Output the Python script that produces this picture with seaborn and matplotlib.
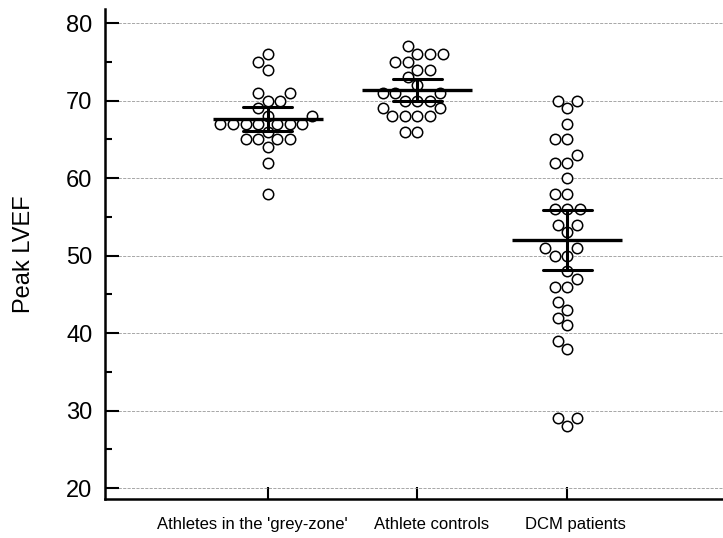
import numpy as np
import pandas as pd
import matplotlib
matplotlib.use("Agg")
import matplotlib.pyplot as plt
import matplotlib.transforms as mtransforms
import seaborn as sns
from matplotlib.ticker import MultipleLocator

groups = ["Athletes in the 'grey-zone'", "Athlete controls", "DCM patients"]

grey_zone = [76, 75, 74, 71, 71, 70, 70, 69, 68, 68, 67, 67, 67, 67, 67, 67, 67,
             66, 65, 65, 65, 65, 64, 62, 58]
controls = [77, 76, 76, 76, 75, 75, 74, 74, 73, 72, 71, 71, 71, 70, 70, 70,
            69, 69, 68, 68, 68, 68, 66, 66]
dcm = [70, 70, 69, 67, 65, 65, 63, 62, 62, 60, 58, 58, 56, 56, 56, 54, 54, 53,
       51, 51, 50, 50, 48, 47, 46, 46, 44, 43, 42, 41, 39, 38, 29, 29, 28]

df = pd.DataFrame({
    "group": [groups[0]] * len(grey_zone) + [groups[1]] * len(controls) + [groups[2]] * len(dcm),
    "lvef": grey_zone + controls + dcm,
})

sns.set_style("white")
plt.rcParams["font.family"] = ["Liberation Sans", "DejaVu Sans"]
plt.rcParams["text.color"] = "black"
plt.rcParams["xtick.color"] = "black"
plt.rcParams["ytick.color"] = "black"
plt.rcParams["axes.labelcolor"] = "black"

fig = plt.figure(figsize=(7.23, 5.38), dpi=100)
ax = fig.add_axes([0.145, 0.0725, 0.855, 0.9105])

sns.swarmplot(data=df, x="group", y="lvef", order=groups, color="white",
              edgecolor="black", linewidth=1.1, size=7.5, ax=ax, zorder=3)

# mean with ~95% CI (2 x SEM)
sns.pointplot(data=df, x="group", y="lvef", order=groups, errorbar=("se", 2),
              capsize=0.33, linestyle="none", marker="_", markersize=79,
              markeredgewidth=2.4, color="black", err_kws={"linewidth": 2.2},
              ax=ax, zorder=4)

ax.set_xlim(-1.087, 3.04)
ax.set_ylim(18.6, 81.8)
ax.yaxis.set_major_locator(MultipleLocator(10))
ax.yaxis.set_minor_locator(MultipleLocator(5))

ax.grid(axis="y", linestyle="--", color="#999999", linewidth=0.6)
ax.grid(axis="x", visible=False)
for s in ["top", "right"]:
    ax.spines[s].set_visible(False)
for s in ["left", "bottom"]:
    ax.spines[s].set_linewidth(1.8)
    ax.spines[s].set_color("black")

ax.tick_params(axis="y", which="major", direction="in", length=10, width=1.5,
               labelsize=17, pad=9, left=True)
ax.tick_params(axis="y", which="minor", direction="in", length=5, width=1.5, left=True)
ax.tick_params(axis="x", direction="in", length=9, width=1.5, labelsize=12,
               pad=13, bottom=True)

# labels in the original are nudged sideways so they don't crowd each other
shifts = [-15, 14, 8]
for lab, dx in zip(ax.get_xticklabels(), shifts):
    lab.set_transform(lab.get_transform() + mtransforms.ScaledTranslation(dx / 100, 0, fig.dpi_scale_trans))

ax.set_xlabel("")
ax.set_ylabel("Peak LVEF", fontsize=17, labelpad=22)

fig.savefig("out.png", dpi=100)
